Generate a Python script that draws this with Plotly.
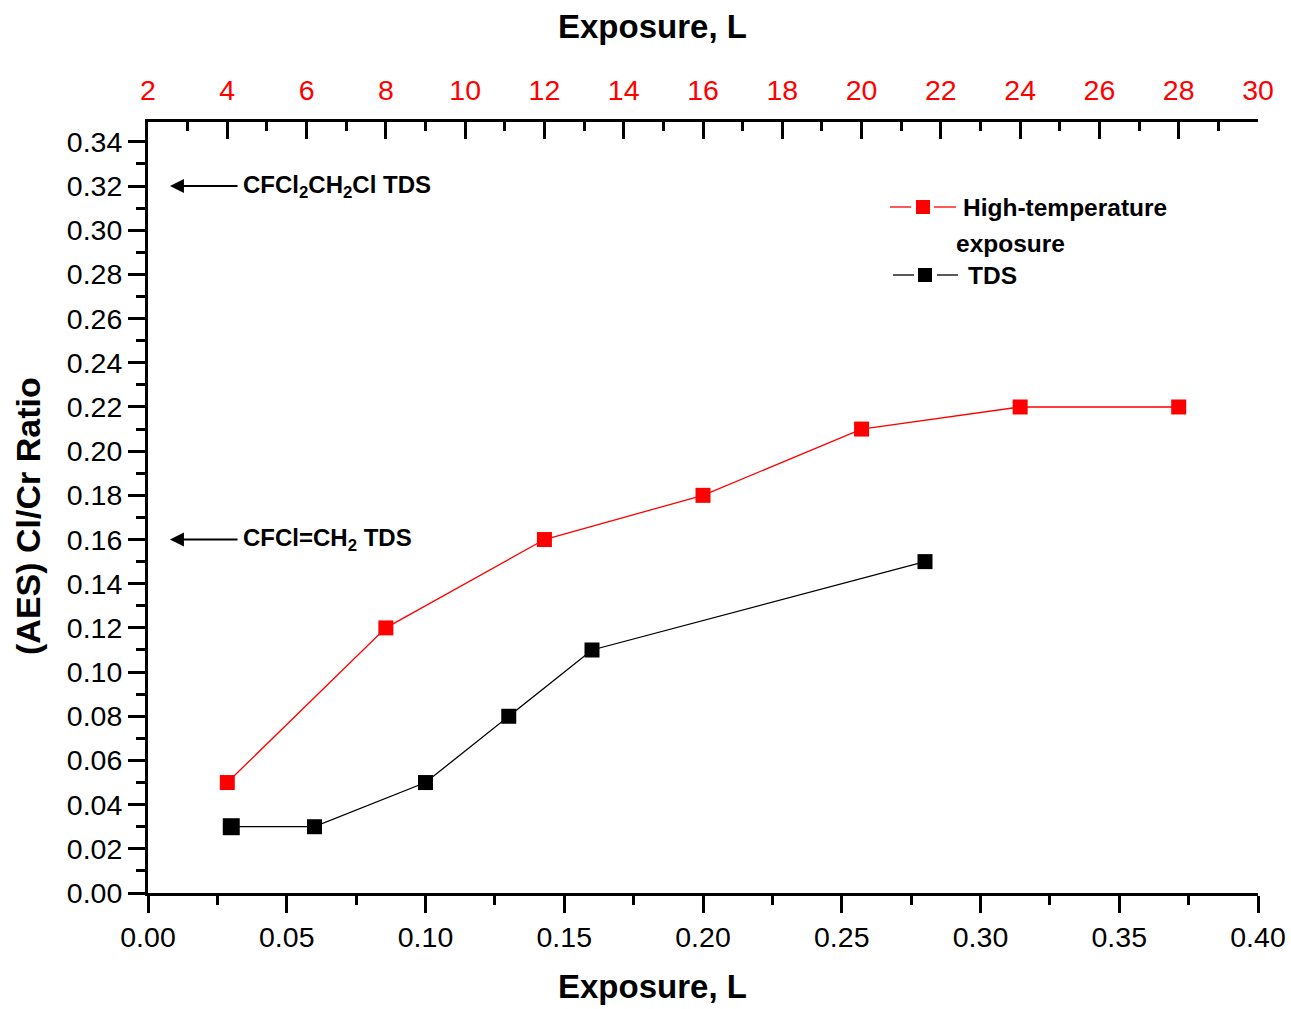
import plotly.graph_objects as go

# High-temperature exposure series (top axis, exposure in L)
ht_exposure = [4, 8, 12, 16, 20, 24, 28]
ht_ratio = [0.05, 0.12, 0.16, 0.18, 0.21, 0.22, 0.22]

# TDS series (bottom axis, exposure in L)
tds_exposure = [0.03, 0.06, 0.10, 0.13, 0.16, 0.28]
tds_ratio = [0.03, 0.03, 0.05, 0.08, 0.11, 0.15]
tds_sizes = [17, 15, 15, 15, 15, 15]

# Reference levels marked with arrows
ref_levels = [0.32, 0.16]
ref_labels = ["CFCl<sub>2</sub>CH<sub>2</sub>Cl TDS", "CFCl=CH<sub>2</sub> TDS"]

FONT = "Liberation Sans, Arial, sans-serif"
RED = "#ff0000"

# Plot-area pixel frame, used for the hand-placed legend and titles
L, R, T, B = 148, 1258, 122, 893
W, H = 1291, 1009

fig = go.Figure()

fig.add_trace(go.Scatter(
    x=tds_exposure, y=tds_ratio, mode="lines+markers",
    line=dict(color="black", width=1.3),
    marker=dict(symbol="square", size=tds_sizes, color="black", opacity=1,
                line=dict(width=0)),
    xaxis="x", yaxis="y", showlegend=False,
))
fig.add_trace(go.Scatter(
    x=ht_exposure, y=ht_ratio, mode="lines+markers",
    line=dict(color=RED, width=1.3),
    marker=dict(symbol="square", size=15, color=RED, opacity=1, line=dict(width=0)),
    xaxis="x2", yaxis="y", showlegend=False,
))

tick_font = dict(family=FONT, size=28.5, color="black")

fig.update_layout(
    width=W, height=H,
    margin=dict(l=L, r=W - R, t=T, b=H - B, autoexpand=False),
    paper_bgcolor="white", plot_bgcolor="white",
    xaxis=dict(
        range=[0, 0.40], tickvals=[0, 0.05, 0.10, 0.15, 0.20, 0.25, 0.30, 0.35, 0.40],
        tickformat=".2f", ticks="outside", ticklen=17, tickwidth=3, tickcolor="black",
        minor=dict(dtick=0.025, ticks="outside", ticklen=9, tickwidth=3, tickcolor="black"),
        showline=True, linecolor="black", linewidth=3, showgrid=False, zeroline=False,
        tickfont=tick_font, automargin=False,
    ),
    xaxis2=dict(
        range=[2, 30], overlaying="x", side="top", anchor="y",
        tickvals=list(range(2, 31, 2)), ticks="inside", ticklen=17, tickwidth=3, tickcolor="black",
        minor=dict(dtick=1, ticks="inside", ticklen=9, tickwidth=3, tickcolor="black"),
        showline=True, linecolor="black", linewidth=3, showgrid=False, zeroline=False,
        tickfont=dict(family=FONT, size=28.5, color=RED), automargin=False,
        ticklabelstandoff=8,
    ),
    yaxis=dict(
        range=[0, 0.349], tickvals=[round(0.02 * i, 2) for i in range(18)],
        tickformat=".2f", ticks="outside", ticklen=17, tickwidth=3, tickcolor="black",
        minor=dict(dtick=0.01, ticks="outside", ticklen=9, tickwidth=3, tickcolor="black"),
        showline=True, linecolor="black", linewidth=3, showgrid=False, zeroline=False,
        tickfont=tick_font, automargin=False,
    ),
)

def px_x(p):
    return (p - L) / (R - L)

def px_y(p):
    return (B - p) / (B - T)

title_font = dict(family=FONT, size=33, color="black")
# Axis titles
for ty in (26, 986):
    fig.add_annotation(x=px_x(652), y=px_y(ty), xref="paper", yref="paper",
                       xanchor="center", yanchor="middle", showarrow=False,
                       text="<b>Exposure, L</b>", font=title_font)
fig.add_annotation(x=px_x(28), y=px_y(516), xref="paper", yref="paper",
                   xanchor="center", yanchor="middle", showarrow=False, textangle=-90,
                   text="<b>(AES) Cl/Cr Ratio</b>", font=dict(family=FONT, size=34, color="black"))

# Arrows and labels for the reference levels
for lvl, lab in zip(ref_levels, ref_labels):
    fig.add_annotation(
        x=0.0079, y=lvl, xref="x", yref="y",
        ax=0.0328, ay=lvl, axref="x", ayref="y",
        text="", showarrow=True, arrowhead=2, arrowsize=1.4, arrowwidth=2, arrowcolor="black",
    )
    fig.add_annotation(
        x=0.0335, y=lvl, xref="x", yref="y", xanchor="left", yanchor="middle",
        text="<b>" + lab + "</b>", showarrow=False,
        font=dict(family=FONT, size=24, color="black"),
    )

# Hand-built legend: line segments broken around the marker, as in the series
legend_rows = [
    (RED, [(890, 911), (934, 956)], 923, 207, [("High-temperature", 961, 207), ("exposure", 954, 243)]),
    ("black", [(893, 914), (937, 958)], 925, 275, [("TDS", 966, 275)]),
]
for color, segs, xm, yrow, texts in legend_rows:
    for x0, x1 in segs:
        fig.add_shape(type="line", xref="paper", yref="paper",
                      x0=px_x(x0), x1=px_x(x1), y0=px_y(yrow), y1=px_y(yrow),
                      line=dict(color=color, width=1.3))
    fig.add_shape(type="rect", xref="paper", yref="paper",
                  x0=px_x(xm - 7), x1=px_x(xm + 7), y0=px_y(yrow + 7), y1=px_y(yrow - 7),
                  line=dict(width=0), fillcolor=color)
    for txt, tx, ty in texts:
        fig.add_annotation(x=px_x(tx), y=px_y(ty), xref="paper", yref="paper",
                           xanchor="left", yanchor="middle", showarrow=False,
                           text="<b>" + txt + "</b>",
                           font=dict(family=FONT, size=24.5, color="black"))

fig.write_html("out.html")
